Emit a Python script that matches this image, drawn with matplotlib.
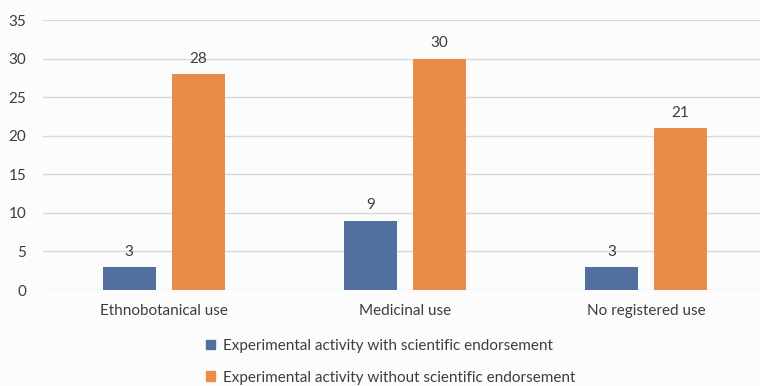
import matplotlib.pyplot as plt
import numpy as np
from matplotlib.patches import Patch

categories = ["Ethnobotanical use", "Medicinal use", "No registered use"]
with_endorsement = [3, 9, 3]
without_endorsement = [28, 30, 21]
series_names = [
    "Experimental activity with scientific endorsement",
    "Experimental activity without scientific endorsement",
]
y_ticks = [0, 5, 10, 15, 20, 25, 30, 35]

blue = "#516f9f"
orange = "#e88d47"
text_color = "#3d3d3d"
bg = "#fcfcfc"
fs = 11

plt.rcParams["font.family"] = ["Lato", "DejaVu Sans"]

fig = plt.figure(figsize=(7.6, 3.86), dpi=100, facecolor=bg)
ax = fig.add_axes([43 / 760, 1 - 290 / 386, 1 - 43 / 760, (290 - 20) / 386])
ax.set_facecolor(bg)

x = np.arange(len(categories))
w = 0.22
off = 0.143
b1 = ax.bar(x - off, with_endorsement, w, color=blue, zorder=3)
b2 = ax.bar(x + off, without_endorsement, w, color=orange, zorder=3)

for bars, vals in ((b1, with_endorsement), (b2, without_endorsement)):
    for bar, v in zip(bars, vals):
        ax.annotate(str(v), (bar.get_x() + bar.get_width() / 2, v),
                    xytext=(0, 6), textcoords="offset points",
                    ha="center", va="bottom", fontsize=fs, color=text_color)

ax.set_xlim(-0.5, 2.473)
ax.set_ylim(0, 35)
ax.set_yticks(y_ticks)
ax.set_xticks(x)
ax.set_xticklabels(categories)
ax.tick_params(axis="both", length=0, labelsize=fs, colors=text_color)
ax.tick_params(axis="y", pad=12)
ax.tick_params(axis="x", pad=10)
ax.grid(axis="y", color="#d9d9d9", linewidth=1, zorder=0)
for s in ax.spines.values():
    s.set_visible(False)

handles = [Patch(color=blue), Patch(color=orange)]
fig.legend(handles, series_names, loc="upper left",
           bbox_to_anchor=(206 / 760, 1 - 339 / 386), frameon=False,
           handlelength=0.6, handleheight=0.6, handletextpad=0.5,
           labelspacing=1.15, fontsize=fs, labelcolor=text_color,
           borderaxespad=0, borderpad=0)

fig.savefig("out.png", dpi=100, facecolor=bg)
